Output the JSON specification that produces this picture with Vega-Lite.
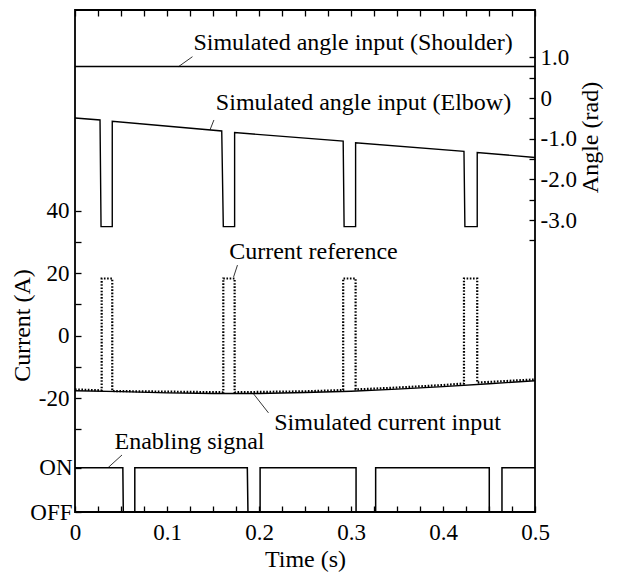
{
  "$schema": "https://vega.github.io/schema/vega-lite/v6.json",
  "width": 460,
  "height": 502,
  "autosize": {"type": "none"},
  "padding": {"left": 75, "top": 10, "right": 82, "bottom": 63},
  "background": "white",
  "config": {
    "font": "Liberation Serif",
    "view": {"stroke": "black", "strokeWidth": 1.8},
    "axis": {
      "domain": false,
      "grid": false,
      "labelFont": "Liberation Serif",
      "titleFont": "Liberation Serif",
      "labelFontSize": 23,
      "titleFontSize": 24,
      "titleFontWeight": "normal",
      "labelColor": "black",
      "titleColor": "black",
      "tickColor": "black",
      "tickWidth": 1.3,
      "tickSize": -6,
      "labelPadding": 12,
      "labelFlush": false,
      "labelOverlap": false,
      "labelBound": false
    },
    "text": {"font": "Liberation Serif", "fontSize": 24, "color": "black"}
  },
  "datasets": {
    "cref": [
      {"t": 0.0, "v": -17.2}, {"t": 0.029, "v": -17.5}, {"t": 0.029, "v": 18.3}, {"t": 0.0405, "v": 18.3}, {"t": 0.0405, "v": -17.7},
      {"t": 0.1, "v": -17.9}, {"t": 0.1612, "v": -18.1}, {"t": 0.1612, "v": 18.3}, {"t": 0.1735, "v": 18.3}, {"t": 0.1735, "v": -18.1},
      {"t": 0.25, "v": -17.8}, {"t": 0.2915, "v": -17.4}, {"t": 0.2915, "v": 18.3}, {"t": 0.305, "v": 18.3}, {"t": 0.305, "v": -17.2},
      {"t": 0.35, "v": -16.6}, {"t": 0.4, "v": -15.8}, {"t": 0.4228, "v": -15.3}, {"t": 0.4228, "v": 18.3}, {"t": 0.4372, "v": 18.3}, {"t": 0.4372, "v": -15.0},
      {"t": 0.5, "v": -14.0}
    ],
    "csim": [
      {"t": 0.0, "v": -17.6}, {"t": 0.05, "v": -17.9}, {"t": 0.1, "v": -18.3}, {"t": 0.15, "v": -18.5}, {"t": 0.2, "v": -18.5},
      {"t": 0.25, "v": -18.2}, {"t": 0.3, "v": -17.8}, {"t": 0.35, "v": -17.1}, {"t": 0.4, "v": -16.3}, {"t": 0.45, "v": -15.4}, {"t": 0.5, "v": -14.4}
    ],
    "ctext": [
      {"t": 0.2592, "v": 26.8, "label": "Current reference"},
      {"t": 0.3397, "v": -27.9, "label": "Simulated current input"}
    ],
    "clead": [
      {"t": 0.1766, "v": 22.6, "t2": 0.1724, "v2": 18.8},
      {"t": 0.1935, "v": -18.4, "t2": 0.2103, "v2": -24.7}
    ],
    "shoulder": [{"t": 0.0, "v": 0.774}, {"t": 0.5, "v": 0.774}],
    "elbow": [
      {"t": 0.0, "v": -0.49}, {"t": 0.0272, "v": -0.54}, {"t": 0.0283, "v": -3.16}, {"t": 0.0405, "v": -3.16}, {"t": 0.0405, "v": -0.57},
      {"t": 0.1595, "v": -0.81}, {"t": 0.1612, "v": -3.16}, {"t": 0.1735, "v": -3.16}, {"t": 0.1735, "v": -0.85},
      {"t": 0.2915, "v": -1.06}, {"t": 0.2925, "v": -3.16}, {"t": 0.305, "v": -3.16}, {"t": 0.305, "v": -1.10},
      {"t": 0.4228, "v": -1.31}, {"t": 0.4238, "v": -3.16}, {"t": 0.4372, "v": -3.16}, {"t": 0.4372, "v": -1.34},
      {"t": 0.5, "v": -1.46}
    ],
    "atext": [
      {"t": 0.3022, "v": 1.35, "label": "Simulated angle input (Shoulder)"},
      {"t": 0.3136, "v": -0.123, "label": "Simulated angle input (Elbow)"}
    ],
    "alead": [
      {"t": 0.1277, "v": 1.015, "t2": 0.1127, "v2": 0.774},
      {"t": 0.151, "v": -0.54, "t2": 0.1467, "v2": -0.785}
    ],
    "enable": [
      {"t": 0.0, "v": 1}, {"t": 0.052, "v": 1}, {"t": 0.0525, "v": 0}, {"t": 0.065, "v": 0}, {"t": 0.065, "v": 1},
      {"t": 0.1873, "v": 1}, {"t": 0.188, "v": 0}, {"t": 0.2012, "v": 0}, {"t": 0.2012, "v": 1},
      {"t": 0.3055, "v": 1}, {"t": 0.3055, "v": 0}, {"t": 0.3268, "v": 0}, {"t": 0.3268, "v": 1},
      {"t": 0.4503, "v": 1}, {"t": 0.4503, "v": 0}, {"t": 0.4641, "v": 0}, {"t": 0.4641, "v": 1},
      {"t": 0.5, "v": 1}
    ],
    "etext": [{"t": 0.1245, "v": 1.58, "label": "Enabling signal"}],
    "elead": [{"t": 0.0511, "v": 1.287, "t2": 0.0359, "v2": 1.0}]
  },
  "layer": [
    {
      "encoding": {
        "x": {
          "field": "t", "type": "quantitative",
          "scale": {"domain": [0, 0.5], "nice": false},
          "axis": {
            "orient": "bottom",
            "values": [0, 0.025, 0.05, 0.075, 0.1, 0.125, 0.15, 0.175, 0.2, 0.225, 0.25, 0.275, 0.3, 0.325, 0.35, 0.375, 0.4, 0.425, 0.45, 0.475, 0.5],
            "labelExpr": "abs(datum.value * 10 - round(datum.value * 10)) < 0.000001 ? (datum.value == 0 ? '0' : format(datum.value, '.1f')) : ''",
            "labelPadding": 15,
            "title": "Time (s)",
            "titlePadding": 3
          }
        },
        "y": {
          "field": "v", "type": "quantitative",
          "scale": {"domain": [-56.42, 104.22], "nice": false, "zero": false},
          "axis": {
            "orient": "left",
            "values": [-30, -20, -10, 0, 10, 20, 30, 40],
            "labelExpr": "datum.value % 20 == 0 ? (datum.value < 0 ? '-' + abs(datum.value) : '' + datum.value) : ''",
            "title": "Current (A)",
            "titleX": -41,
            "titleY": 315
          }
        }
      },
      "layer": [
        {"data": {"name": "csim"}, "mark": {"type": "line", "color": "black", "strokeWidth": 1.4}, "encoding": {"order": {"value": null}}},
        {"data": {"name": "cref"}, "mark": {"type": "line", "color": "black", "strokeWidth": 2.2, "strokeDash": [1.6, 1.6]}, "encoding": {"order": {"value": null}}},
        {"data": {"name": "clead"}, "mark": {"type": "rule", "color": "black", "strokeWidth": 0.8}, "encoding": {"x2": {"field": "t2"}, "y2": {"field": "v2"}}},
        {"data": {"name": "ctext"}, "mark": {"type": "text", "baseline": "middle", "align": "center", "font": "Liberation Serif", "fontSize": 24}, "encoding": {"text": {"field": "label"}}}
      ]
    },
    {
      "encoding": {
        "x": {
          "field": "t", "type": "quantitative",
          "scale": {"domain": [0, 0.5], "nice": false},
          "axis": {
            "orient": "top",
            "values": [0, 0.025, 0.05, 0.075, 0.1, 0.125, 0.15, 0.175, 0.2, 0.225, 0.25, 0.275, 0.3, 0.325, 0.35, 0.375, 0.4, 0.425, 0.45, 0.475, 0.5],
            "labels": false,
            "title": null
          }
        },
        "y": {
          "field": "v", "type": "quantitative",
          "scale": {"domain": [-10.17, 2.162], "nice": false, "zero": false},
          "axis": {
            "orient": "right",
            "values": [-3.5, -3, -2.5, -2, -1.5, -1, -0.5, 0, 0.5, 1],
            "labelExpr": "datum.value % 1 == 0 ? (datum.value == 0 ? '0' : (datum.value < 0 ? '-' : '') + format(abs(datum.value), '.1f')) : ''",
            "labelPadding": 11,
            "title": "Angle (rad)",
            "titleAngle": 270,
            "titleX": 67,
            "titleY": 127
          }
        }
      },
      "layer": [
        {"data": {"name": "shoulder"}, "mark": {"type": "line", "color": "black", "strokeWidth": 1.4}, "encoding": {"order": {"value": null}}},
        {"data": {"name": "elbow"}, "mark": {"type": "line", "color": "black", "strokeWidth": 1.4}, "encoding": {"order": {"value": null}}},
        {"data": {"name": "alead"}, "mark": {"type": "rule", "color": "black", "strokeWidth": 0.8}, "encoding": {"x2": {"field": "t2"}, "y2": {"field": "v2"}}},
        {"data": {"name": "atext"}, "mark": {"type": "text", "baseline": "middle", "align": "center", "font": "Liberation Serif", "fontSize": 24}, "encoding": {"text": {"field": "label"}}}
      ]
    },
    {
      "encoding": {
        "x": {
          "field": "t", "type": "quantitative",
          "scale": {"domain": [0, 0.5], "nice": false},
          "axis": null
        },
        "y": {
          "field": "v", "type": "quantitative",
          "scale": {"domain": [0, 11.33], "nice": false, "zero": false},
          "axis": {
            "orient": "left",
            "values": [0, 1],
            "labelExpr": "datum.value == 1 ? 'ON' : 'OFF'",
            "labelPadding": 9,
            "title": null
          }
        }
      },
      "layer": [
        {"data": {"name": "enable"}, "mark": {"type": "line", "color": "black", "strokeWidth": 1.5}, "encoding": {"order": {"value": null}}},
        {"data": {"name": "elead"}, "mark": {"type": "rule", "color": "black", "strokeWidth": 0.8}, "encoding": {"x2": {"field": "t2"}, "y2": {"field": "v2"}}},
        {"data": {"name": "etext"}, "mark": {"type": "text", "baseline": "middle", "align": "center", "font": "Liberation Serif", "fontSize": 24}, "encoding": {"text": {"field": "label"}}}
      ]
    }
  ],
  "resolve": {"scale": {"y": "independent"}, "axis": {"x": "independent", "y": "independent"}}
}
